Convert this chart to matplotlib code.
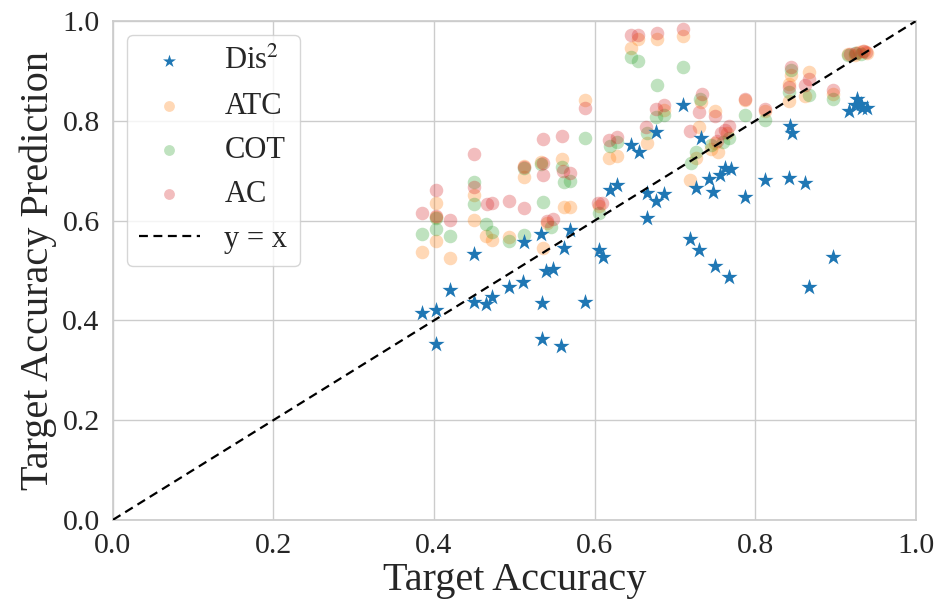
import matplotlib
matplotlib.use("Agg")
import matplotlib.pyplot as plt
import seaborn as sns

# Dis^2 estimates
dis_x = [0.385, 0.403, 0.403, 0.420, 0.450, 0.450, 0.465, 0.472, 0.493, 0.511,
         0.512, 0.533, 0.535, 0.535, 0.540, 0.548, 0.558, 0.562, 0.570, 0.588,
         0.605, 0.610, 0.619, 0.628, 0.646, 0.655, 0.665, 0.665, 0.676, 0.686,
         0.677, 0.710, 0.719, 0.727, 0.730, 0.733, 0.743, 0.747, 0.750, 0.756,
         0.762, 0.770, 0.768, 0.787, 0.812, 0.842, 0.844, 0.846, 0.862, 0.867,
         0.897, 0.917, 0.927, 0.932, 0.933, 0.939, 0.924]
dis_y = [0.415, 0.421, 0.353, 0.461, 0.533, 0.437, 0.433, 0.447, 0.467, 0.477,
         0.557, 0.573, 0.435, 0.363, 0.499, 0.503, 0.349, 0.545, 0.581, 0.437,
         0.541, 0.527, 0.661, 0.671, 0.752, 0.737, 0.605, 0.655, 0.639, 0.653,
         0.778, 0.832, 0.563, 0.665, 0.541, 0.766, 0.683, 0.657, 0.509, 0.691,
         0.705, 0.703, 0.487, 0.647, 0.681, 0.685, 0.790, 0.776, 0.675, 0.467,
         0.527, 0.820, 0.844, 0.834, 0.826, 0.826, 0.832]

atc_x = [0.385, 0.403, 0.403, 0.403, 0.420, 0.450, 0.450, 0.465, 0.472, 0.494,
         0.512, 0.512, 0.536, 0.533, 0.541, 0.559, 0.562, 0.570, 0.588, 0.606,
         0.618, 0.628, 0.665, 0.654, 0.646, 0.678, 0.710, 0.686, 0.733, 0.750,
         0.730, 0.727, 0.719, 0.754, 0.745, 0.750, 0.765, 0.787, 0.812, 0.845,
         0.842, 0.842, 0.867, 0.862, 0.897, 0.916, 0.924, 0.930, 0.936, 0.940]
atc_y = [0.537, 0.636, 0.607, 0.559, 0.526, 0.651, 0.601, 0.569, 0.561, 0.568,
         0.688, 0.710, 0.545, 0.718, 0.595, 0.723, 0.627, 0.627, 0.842, 0.630,
         0.725, 0.729, 0.756, 0.964, 0.947, 0.964, 0.970, 0.822, 0.838, 0.820,
         0.787, 0.725, 0.681, 0.738, 0.743, 0.755, 0.775, 0.843, 0.820, 0.892,
         0.875, 0.840, 0.898, 0.850, 0.855, 0.935, 0.932, 0.938, 0.940, 0.936]

cot_x = [0.385, 0.403, 0.403, 0.420, 0.450, 0.450, 0.465, 0.472, 0.494, 0.512,
         0.512, 0.536, 0.533, 0.546, 0.559, 0.562, 0.570, 0.588, 0.606, 0.619,
         0.628, 0.665, 0.646, 0.654, 0.678, 0.710, 0.676, 0.686, 0.732, 0.720,
         0.727, 0.760, 0.768, 0.745, 0.787, 0.812, 0.845, 0.842, 0.867, 0.897,
         0.916, 0.924, 0.932]
cot_y = [0.573, 0.583, 0.605, 0.569, 0.677, 0.633, 0.593, 0.578, 0.559, 0.571,
         0.705, 0.638, 0.713, 0.588, 0.708, 0.678, 0.680, 0.765, 0.616, 0.749,
         0.757, 0.775, 0.929, 0.920, 0.872, 0.908, 0.808, 0.813, 0.845, 0.716,
         0.738, 0.758, 0.765, 0.752, 0.812, 0.802, 0.902, 0.858, 0.852, 0.845,
         0.932, 0.936, 0.934]

ac_x = [0.385, 0.403, 0.403, 0.420, 0.450, 0.450, 0.466, 0.472, 0.494, 0.512,
        0.512, 0.536, 0.536, 0.536, 0.541, 0.548, 0.559, 0.561, 0.570, 0.588,
        0.604, 0.609, 0.618, 0.628, 0.664, 0.646, 0.654, 0.678, 0.710, 0.676,
        0.686, 0.734, 0.730, 0.750, 0.719, 0.758, 0.768, 0.763, 0.752, 0.787,
        0.812, 0.845, 0.842, 0.867, 0.862, 0.897, 0.918, 0.926, 0.934, 0.938]
ac_y = [0.615, 0.661, 0.609, 0.601, 0.733, 0.667, 0.633, 0.636, 0.639, 0.625,
        0.708, 0.763, 0.715, 0.691, 0.600, 0.603, 0.770, 0.699, 0.695, 0.827,
        0.636, 0.636, 0.761, 0.767, 0.787, 0.972, 0.972, 0.977, 0.985, 0.825,
        0.832, 0.855, 0.818, 0.810, 0.780, 0.775, 0.790, 0.782, 0.760, 0.845,
        0.824, 0.908, 0.869, 0.885, 0.872, 0.862, 0.934, 0.937, 0.940, 0.938]

sns.set_theme(style="whitegrid")
plt.rcParams["font.family"] = ["Liberation Serif", "DejaVu Serif"]
plt.rcParams["mathtext.fontset"] = "stix"

fig, ax = plt.subplots(figsize=(9.41, 6.08), dpi=100)
fig.subplots_adjust(left=0.120, right=0.973, bottom=0.145, top=0.965)

ax.scatter(dis_x, dis_y, marker="*", s=150, color="#1f77b4", linewidths=0,
           label="Dis$^2$", zorder=3)
ax.scatter(atc_x, atc_y, marker="o", s=95, color="#ff7f0e", alpha=0.3,
           linewidths=0, label="ATC", zorder=2)
ax.scatter(cot_x, cot_y, marker="o", s=95, color="#2ca02c", alpha=0.3,
           linewidths=0, label="COT", zorder=2)
ax.scatter(ac_x, ac_y, marker="o", s=95, color="#d62728", alpha=0.3,
           linewidths=0, label="AC", zorder=2)
ax.plot([0, 1], [0, 1], color="black", ls=(0, (4, 2.5)), lw=1.6,
        label="y = x", zorder=4)

ax.set_xlim(0, 1)
ax.set_ylim(0, 1)
ax.set_xticks([0, 0.2, 0.4, 0.6, 0.8, 1.0])
ax.set_yticks([0, 0.2, 0.4, 0.6, 0.8, 1.0])
ax.tick_params(labelsize=21.5)
ax.set_xlabel("Target Accuracy", fontsize=29, labelpad=2)
ax.set_ylabel("Target Accuracy Prediction", fontsize=29, labelpad=4)

ax.legend(loc="upper left", fontsize=22, frameon=True, borderaxespad=0.45,
          markerscale=0.8)

fig.savefig("out.png", dpi=100)
